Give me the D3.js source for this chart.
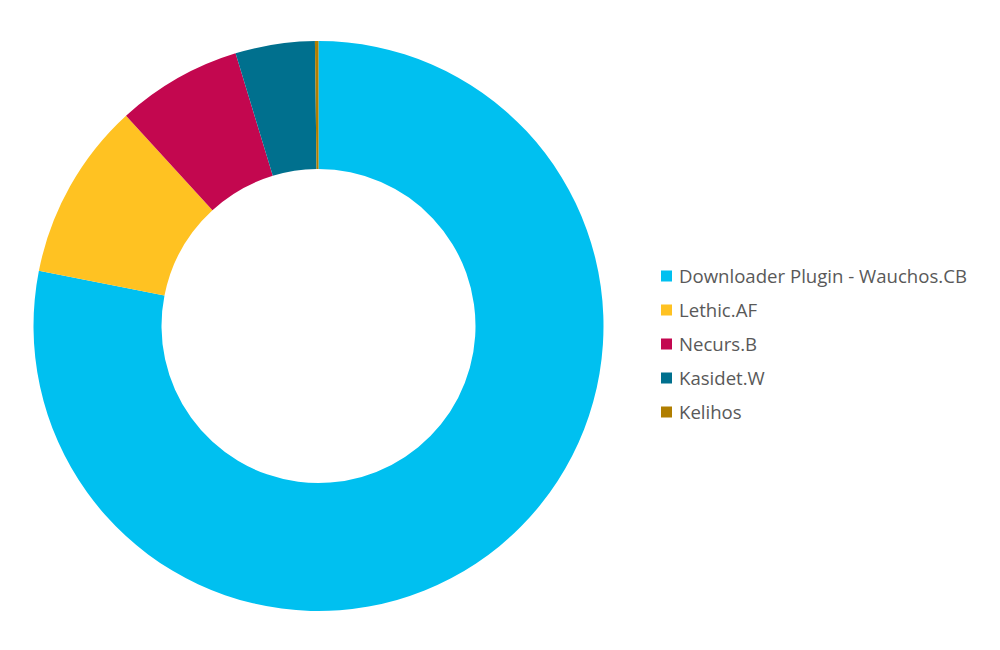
<!DOCTYPE html>
<html><head><meta charset="utf-8">
<script src="https://cdn.jsdelivr.net/npm/d3@7"></script>
<style>html,body{margin:0;padding:0;background:#fff;}</style>
</head><body>
<svg id="chart" width="1000" height="650"></svg>
<script>
const categories = ["Downloader Plugin - Wauchos.CB", "Lethic.AF", "Necurs.B", "Kasidet.W", "Kelihos"];
const values = [78.1, 10.1, 7.1, 4.5, 0.2];
const colors = ["#00C0F0", "#FFC222", "#C3074F", "#00708E", "#B07E00"];

const svg = d3.select("#chart");
const cx = 318.5, cy = 326, outerR = 285, innerR = 157;

const pie = d3.pie().sort(null).value(d => d.v);
const arcs = pie(categories.map((c, i) => ({c, v: values[i], col: colors[i]})));
const arc = d3.arc().innerRadius(innerR).outerRadius(outerR);

svg.append("g").attr("transform", `translate(${cx},${cy})`)
  .selectAll("path").data(arcs).join("path")
  .attr("d", arc).attr("fill", d => d.data.col);

const y = d3.scalePoint().domain(categories).range([276, 412]);
const lg = svg.append("g");
const items = lg.selectAll("g").data(categories).join("g")
  .attr("transform", d => `translate(661,${y(d)})`);
items.append("rect").attr("x", 0).attr("y", -5.5).attr("width", 11).attr("height", 11)
  .attr("fill", (d, i) => colors[i]);
items.append("text").attr("x", 18).attr("y", 0).attr("dy", "0.35em")
  .attr("font-family", "'Open Sans', sans-serif").attr("font-size", 18.6)
  .attr("fill", "#595959").text(d => d);
</script>
</body></html>
